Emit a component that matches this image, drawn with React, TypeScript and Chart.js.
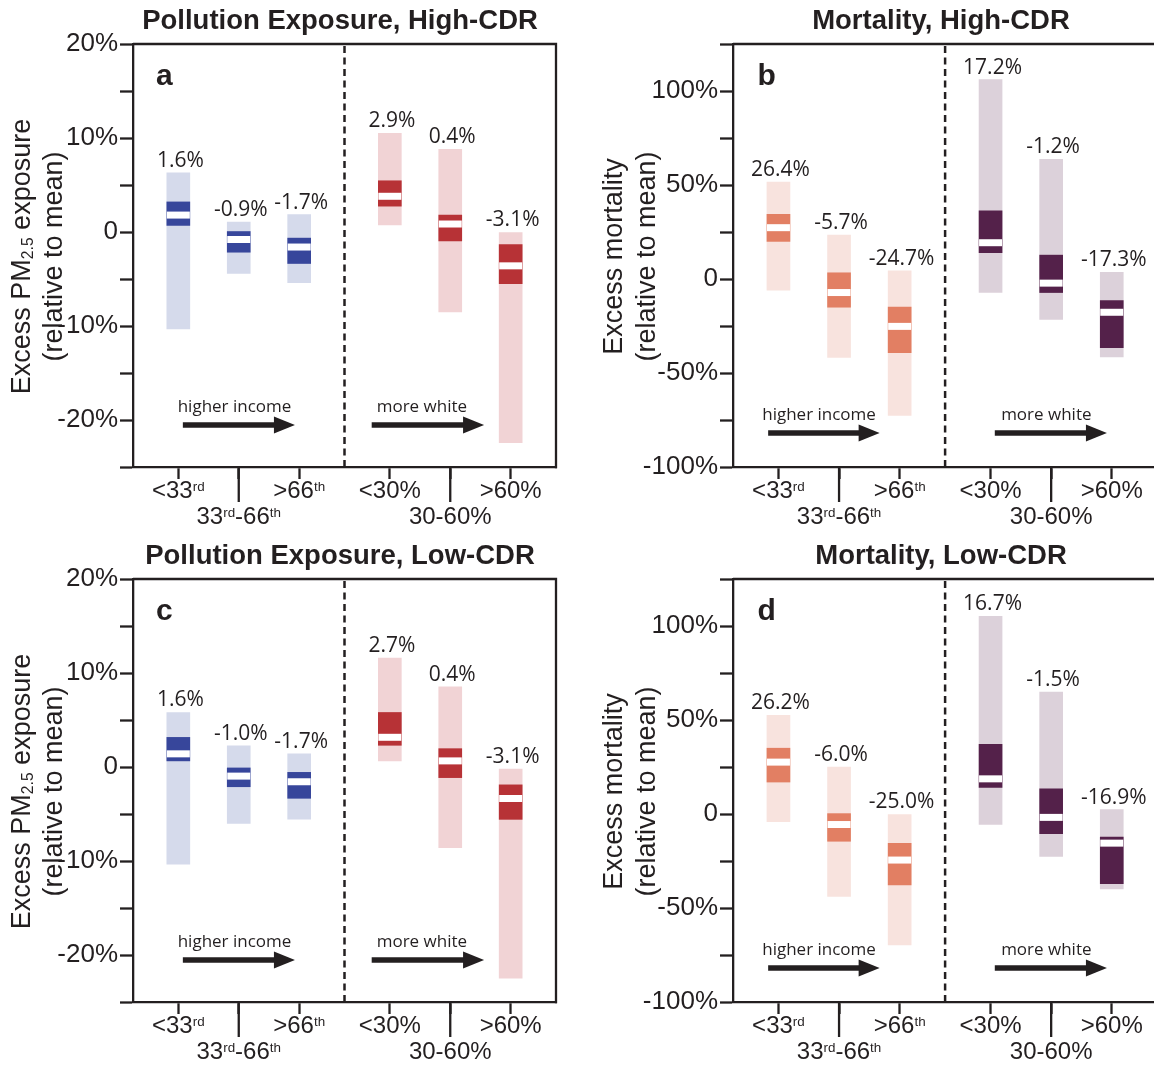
import React, { useEffect, useRef } from 'react';
import { Chart, registerables } from 'chart.js';

Chart.register(...registerables);

// ---------------- data ----------------
const CATEGORIES = ['<33rd', '33rd-66th', '>66th', '<30%', '30-60%', '>60%'];
const CAT_X = [0, 1, 2, 3.5, 4.5, 5.5];
const X_ROW = [0, 1, 0, 0, 1, 0];
const DIVIDER_X = 2.75;

const POLLUTION_Y_LABELED = [20, 10, 0, -10, -20];
const MORTALITY_Y_LABELED = [100, 50, 0, -50, -100];

// Panel a — Pollution Exposure, High-CDR
const A_LO = [-10.3, -4.4, -5.4, 0.75, -8.5, -22.4];
const A_HI = [6.3, 1.05, 1.85, 10.5, 8.8, 0];
const A_Q1 = [0.7, -2.15, -3.35, 2.75, -0.95, -5.5];
const A_Q3 = [3.2, 0.05, -0.65, 5.45, 1.8, -1.35];
const A_MED = [1.8, -0.8, -1.6, 3.8, 0.85, -3.6];
const A_LABELS = ['1.6%', '-0.9%', '-1.7%', '2.9%', '0.4%', '-3.1%'];

// Panel b — Mortality, High-CDR
const B_LO = [-5.9, -41.7, -72.5, -7.1, -21.5, -41.5];
const B_HI = [51.6, 23.3, 4.4, 106.1, 63.7, 3.5];
const B_Q1 = [20, -15, -39.2, 14, -7.2, -36.5];
const B_Q3 = [34.4, 3.3, -15, 36.2, 12.7, -11.5];
const B_MED = [27.3, -7.2, -25.2, 19.3, -2.2, -17.7];
const B_LABELS = ['26.4%', '-5.7%', '-24.7%', '17.2%', '-1.2%', '-17.3%'];

// Panel c — Pollution Exposure, Low-CDR
const C_LO = [-10.35, -6.0, -5.55, 0.65, -8.58, -22.47];
const C_HI = [5.8, 2.25, 1.4, 11.58, 8.54, -0.23];
const C_Q1 = [0.65, -2.1, -3.33, 2.31, -1.13, -5.57];
const C_Q3 = [3.15, -0.1, -0.57, 5.8, 1.95, -1.9];
const C_MED = [1.4, -0.97, -1.57, 3.16, 0.65, -3.35];
const C_LABELS = ['1.6%', '-1.0%', '-1.7%', '2.7%', '0.4%', '-3.1%'];

// Panel d — Mortality, Low-CDR
const D_LO = [-4.1, -43.8, -69.7, -5.6, -22.5, -39.8];
const D_HI = [52.5, 25, 0, 105.2, 64.9, 2.3];
const D_Q1 = [17, -14.5, -37.7, 14.1, -10.5, -37];
const D_Q3 = [35, 0.2, -15.6, 37, 13.4, -12.3];
const D_MED = [27.6, -5.6, -24.5, 18.7, -1.8, -15.5];
const D_LABELS = ['26.2%', '-6.0%', '-25.0%', '16.7%', '-1.5%', '-16.9%'];

// ---------------- styles ----------------
const INK = '#231f20';
const SANS = '"Liberation Sans", Arial, Helvetica, sans-serif';
const HUMAN = '"Open Sans", "Noto Sans", sans-serif';
const FRAME_W = 2.3;
const BAR_W = 23;

type Seg = { t: string; sup?: boolean; sub?: boolean };

function toSegs(label: string): Seg[] {
  const parts = label.split(/(rd|th)/);
  return parts.filter((s) => s.length > 0).map((s) => ({ t: s, sup: s === 'rd' || s === 'th' }));
}

function drawRich(ctx: CanvasRenderingContext2D, segs: Seg[], cx: number, baseline: number, size: number, family: string) {
  const sz = (s: Seg) => (s.sup ? size * 0.56 : s.sub ? size * 0.58 : size);
  const widths = segs.map((s) => {
    ctx.font = `${sz(s)}px ${family}`;
    return ctx.measureText(s.t).width;
  });
  const total = widths.reduce((a, b) => a + b, 0);
  let x = cx - total / 2;
  ctx.textAlign = 'left';
  ctx.textBaseline = 'alphabetic';
  segs.forEach((s, i) => {
    ctx.font = `${sz(s)}px ${family}`;
    const dy = s.sup ? -size * 0.3 : s.sub ? size * 0.1 : 0;
    ctx.fillText(s.t, x, baseline + dy);
    x += widths[i];
  });
}

function drawArrow(ctx: CanvasRenderingContext2D, x0: number, x1: number, y: number) {
  ctx.strokeStyle = INK;
  ctx.fillStyle = INK;
  ctx.lineWidth = 5.5;
  ctx.lineCap = 'butt';
  ctx.beginPath();
  ctx.moveTo(x0, y);
  ctx.lineTo(x1 - 16, y);
  ctx.stroke();
  ctx.beginPath();
  ctx.moveTo(x1, y);
  ctx.lineTo(x1 - 21, y - 8.5);
  ctx.lineTo(x1 - 21, y + 8.5);
  ctx.closePath();
  ctx.fill();
}

const KINDS: any = {
  pollution: {
    yMin: -25, yMax: 20, step: 5, labeled: POLLUTION_Y_LABELED,
    dark: ['#37469b', '#b73236'], light: ['#d5daeb', '#f1d3d5'],
    areaLeft: 133, padRight: 21, xMax: 6.25, rightBorder: true,
    titleX: 340, yTitleX: [30, 62], letterDx: 23,
    yTitle1: [{ t: 'Excess PM' }, { t: '2.5', sub: true }, { t: ' exposure' }],
    annText: [0.93, 4.03], incomeArrow: [0.075, 1.93], raceArrow: [3.2, 5.06],
    annTextDy: 60, annArrowDy: 42,
  },
  mortality: {
    yMin: -100, yMax: 125, step: 25, labeled: MORTALITY_Y_LABELED,
    dark: ['#e27f63', '#54214a'], light: ['#f8e3de', '#dcd1da'],
    areaLeft: 156, padRight: 0, xMax: 6.197, rightBorder: false,
    titleX: 364, yTitleX: [45, 77.5], letterDx: 24.5,
    yTitle1: [{ t: 'Excess mortality' }],
    annText: [0.67, 4.42], incomeArrow: [-0.17, 1.67], raceArrow: [3.57, 5.42],
    annTextDy: 52, annArrowDy: 34,
  },
};

const PANELS = [
  { letter: 'a', kind: 'pollution', title: 'Pollution Exposure, High-CDR', lo: A_LO, hi: A_HI, q1: A_Q1, q3: A_Q3, med: A_MED, labels: A_LABELS, x: 0, y: 0, w: 577, h: 535 },
  { letter: 'b', kind: 'mortality', title: 'Mortality, High-CDR', lo: B_LO, hi: B_HI, q1: B_Q1, q3: B_Q3, med: B_MED, labels: B_LABELS, x: 577, y: 0, w: 577, h: 535 },
  { letter: 'c', kind: 'pollution', title: 'Pollution Exposure, Low-CDR', lo: C_LO, hi: C_HI, q1: C_Q1, q3: C_Q3, med: C_MED, labels: C_LABELS, x: 0, y: 535, w: 577, h: 530 },
  { letter: 'd', kind: 'mortality', title: 'Mortality, Low-CDR', lo: D_LO, hi: D_HI, q1: D_Q1, q3: D_Q3, med: D_MED, labels: D_LABELS, x: 577, y: 535, w: 577, h: 530 },
];

const AREA_TOP = 44;
const AREA_BOTTOM = 467;

function makeOverlay(p: any, k: any) {
  return {
    id: 'overlay' + p.letter,
    afterDraw(chart: any) {
      const ctx: CanvasRenderingContext2D = chart.ctx;
      const { left, right, top, bottom } = chart.chartArea;
      const xs = chart.scales.x;
      const ys = chart.scales.y;
      const px = (v: number) => xs.getPixelForValue(v);
      ctx.save();
      // frame (top and right)
      ctx.strokeStyle = INK;
      ctx.lineWidth = FRAME_W;
      ctx.beginPath();
      ctx.moveTo(left, top);
      ctx.lineTo(right, top);
      if (k.rightBorder) ctx.lineTo(right, bottom + FRAME_W / 2);
      ctx.stroke();
      // long ticks under the middle categories
      CATEGORIES.forEach((_, i) => {
        if (!X_ROW[i]) return;
        ctx.beginPath();
        ctx.moveTo(px(CAT_X[i]), bottom);
        ctx.lineTo(px(CAT_X[i]), bottom + 35);
        ctx.stroke();
      });
      // x labels
      ctx.fillStyle = INK;
      CATEGORIES.forEach((c, i) => {
        drawRich(ctx, toSegs(c), px(CAT_X[i]), bottom + (X_ROW[i] ? 57 : 31), 24, SANS);
      });
      // title
      ctx.font = `bold 27.5px ${SANS}`;
      ctx.textAlign = 'center';
      ctx.textBaseline = 'alphabetic';
      ctx.fillText(p.title, k.titleX, 29);
      // panel letter
      ctx.font = `bold 30px ${SANS}`;
      ctx.textAlign = 'left';
      ctx.fillText(p.letter, left + k.letterDx, top + 41);
      // y title (two lines, rotated)
      const cy = (top + bottom) / 2 + 1;
      ctx.save();
      ctx.translate(k.yTitleX[0], cy);
      ctx.rotate(-Math.PI / 2);
      drawRich(ctx, k.yTitle1, 0, 0, 27, SANS);
      ctx.restore();
      ctx.save();
      ctx.translate(k.yTitleX[1], cy);
      ctx.rotate(-Math.PI / 2);
      drawRich(ctx, [{ t: '(relative to mean)' }], 0, 0, 27, SANS);
      ctx.restore();
      // value labels above bars
      ctx.fillStyle = INK;
      ctx.font = `21px ${HUMAN}`;
      ctx.textAlign = 'center';
      ctx.textBaseline = 'alphabetic';
      p.labels.forEach((t: string, i: number) => {
        ctx.fillText(t, px(CAT_X[i]) + 2, ys.getPixelForValue(p.hi[i]) - 6);
      });
      // annotations
      ctx.font = `17px ${HUMAN}`;
      ctx.textBaseline = 'middle';
      ctx.fillText('higher income', px(k.annText[0]), bottom - k.annTextDy);
      ctx.fillText('more white', px(k.annText[1]), bottom - k.annTextDy);
      drawArrow(ctx, px(k.incomeArrow[0]), px(k.incomeArrow[1]), bottom - k.annArrowDy);
      drawArrow(ctx, px(k.raceArrow[0]), px(k.raceArrow[1]), bottom - k.annArrowDy);
      ctx.restore();
    },
  };
}

function Panel({ p }: { p: any }) {
  const ref = useRef<HTMLCanvasElement>(null);
  useEffect(() => {
    const k = KINDS[p.kind];
    const colorsFor = (pair: string[]) => CAT_X.map((_, i) => (i < 3 ? pair[0] : pair[1]));
    const chart = new Chart(ref.current as HTMLCanvasElement, {
      type: 'bar',
      data: {
        datasets: [
          {
            type: 'line',
            label: 'median',
            data: p.med.map((v: number, i: number) => ({ x: CAT_X[i], y: v })),
            showLine: false,
            pointStyle: 'line',
            pointRadius: BAR_W / 2,
            pointHoverRadius: BAR_W / 2,
            pointBorderWidth: 7,
            pointHoverBorderWidth: 7,
            pointBorderColor: '#ffffff',
            pointBackgroundColor: '#ffffff',
            order: 0,
          } as any,
          {
            type: 'bar',
            label: 'interquartile',
            data: p.q1.map((v: number, i: number) => ({ x: CAT_X[i], y: [v, p.q3[i]] })),
            backgroundColor: colorsFor(k.dark),
            barThickness: BAR_W,
            grouped: false,
            order: 1,
          } as any,
          {
            type: 'bar',
            label: 'range',
            data: p.lo.map((v: number, i: number) => ({ x: CAT_X[i], y: [v, p.hi[i]] })),
            backgroundColor: colorsFor(k.light),
            barThickness: BAR_W,
            grouped: false,
            order: 2,
          } as any,
          {
            type: 'line',
            label: 'divider',
            data: [{ x: DIVIDER_X, y: k.yMin }, { x: DIVIDER_X, y: k.yMax }],
            borderColor: INK,
            borderWidth: 2.5,
            borderDash: [7, 4.5],
            pointRadius: 0,
            order: 3,
          } as any,
        ],
      },
      options: {
        animation: false,
        responsive: false,
        devicePixelRatio: 1,
        events: [],
        layout: { autoPadding: false, padding: { left: 0, top: AREA_TOP, right: k.padRight, bottom: 0 } },
        plugins: { legend: { display: false }, tooltip: { enabled: false }, title: { display: false } },
        scales: {
          x: {
            type: 'linear',
            min: -0.75,
            max: k.xMax,
            offset: false,
            afterBuildTicks: (s: any) => {
              s.ticks = CAT_X.map((v) => ({ value: v }));
            },
            afterFit: (s: any) => {
              s.height = p.h - AREA_BOTTOM;
            },
            ticks: { display: false },
            grid: { offset: false, drawOnChartArea: false, drawTicks: true, tickLength: 12, tickWidth: FRAME_W, tickColor: INK },
            border: { display: true, width: FRAME_W, color: INK },
          },
          y: {
            type: 'linear',
            min: k.yMin,
            max: k.yMax,
            afterFit: (s: any) => {
              s.width = k.areaLeft;
            },
            ticks: {
              stepSize: k.step,
              autoSkip: false,
              padding: 2,
              color: INK,
              font: { family: SANS, size: 26 },
              callback: (v: any) => (k.labeled.includes(Number(v)) ? (Number(v) === 0 ? '0' : `${v}%`) : ''),
            },
            grid: { drawOnChartArea: false, drawTicks: true, tickLength: 13, tickWidth: FRAME_W, tickColor: INK },
            border: { display: true, width: FRAME_W, color: INK },
          },
        },
      } as any,
      plugins: [makeOverlay(p, k)],
    });
    return () => chart.destroy();
  }, []);
  return (
    <canvas
      ref={ref}
      width={p.w}
      height={p.h}
      style={{ position: 'absolute', left: p.x, top: p.y, width: p.w, height: p.h }}
    />
  );
}

export default function App() {
  return (
    <div style={{ position: 'absolute', left: 0, top: 0, width: 1154, height: 1065, background: '#ffffff', overflow: 'hidden' }}>
      {PANELS.map((p) => (
        <Panel key={p.letter} p={p} />
      ))}
    </div>
  );
}
